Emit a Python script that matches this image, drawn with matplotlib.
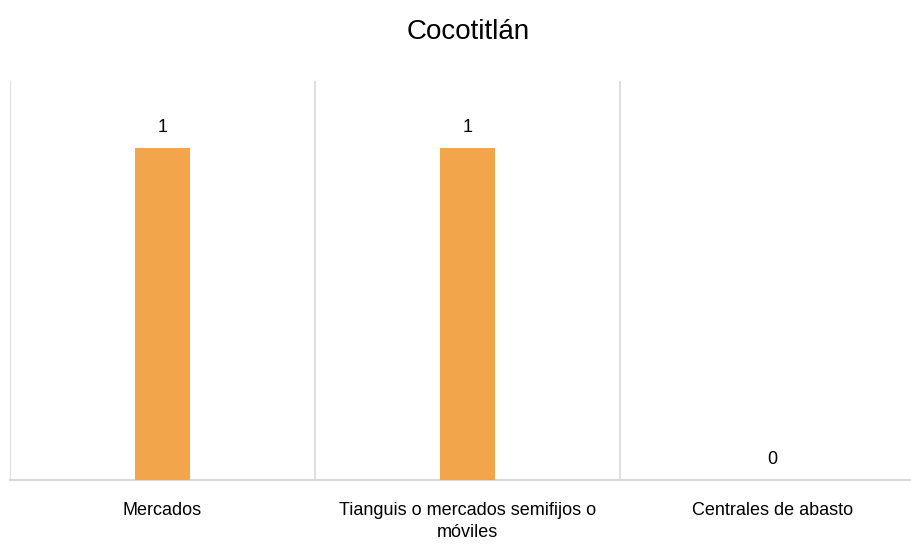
import matplotlib
matplotlib.use("Agg")
import matplotlib.pyplot as plt

categories = ["Mercados", "Tianguis o mercados semifijos o\nmóviles", "Centrales de abasto"]
values = [1, 1, 0]
title = "Cocotitlán"

plt.rcParams['font.family'] = ['Liberation Sans', 'DejaVu Sans']

W, H = 911, 544
fig = plt.figure(figsize=(W/100, H/100), dpi=100)
left, right, top, bottom = 10, 925, 81, 480
ax = fig.add_axes([left/W, 1-bottom/H, (right-left)/W, (bottom-top)/H])

x = list(range(len(categories)))
bars = ax.bar(x, values, width=0.18, color="#F2A54A", zorder=3)
ax.set_xlim(-0.5, len(categories)-0.5)
ax.set_ylim(0, 1.2)

for xi, v in zip(x, values):
    ax.annotate(f"{v}", (xi, v), xytext=(0, 8.5), textcoords="offset points",
                ha="center", va="bottom", fontsize=13, color="#000000")

for b in [i + 0.5 for i in range(-1, len(categories))]:
    ax.axvline(b, color="#D9D9D9", lw=1.2, zorder=1)

for s in ["top", "right", "left"]:
    ax.spines[s].set_visible(False)
ax.spines["bottom"].set_color("#D9D9D9")
ax.spines["bottom"].set_linewidth(1.5)
ax.set_yticks([])
ax.set_xticks(x)
ax.set_xticklabels(categories, fontsize=13, color="#000000", linespacing=1.35)
ax.tick_params(axis="x", length=0, pad=16)

fig.text(468/W, 1-32/H, title, ha="center", va="center", fontsize=20)

fig.savefig("out.png", dpi=100)
